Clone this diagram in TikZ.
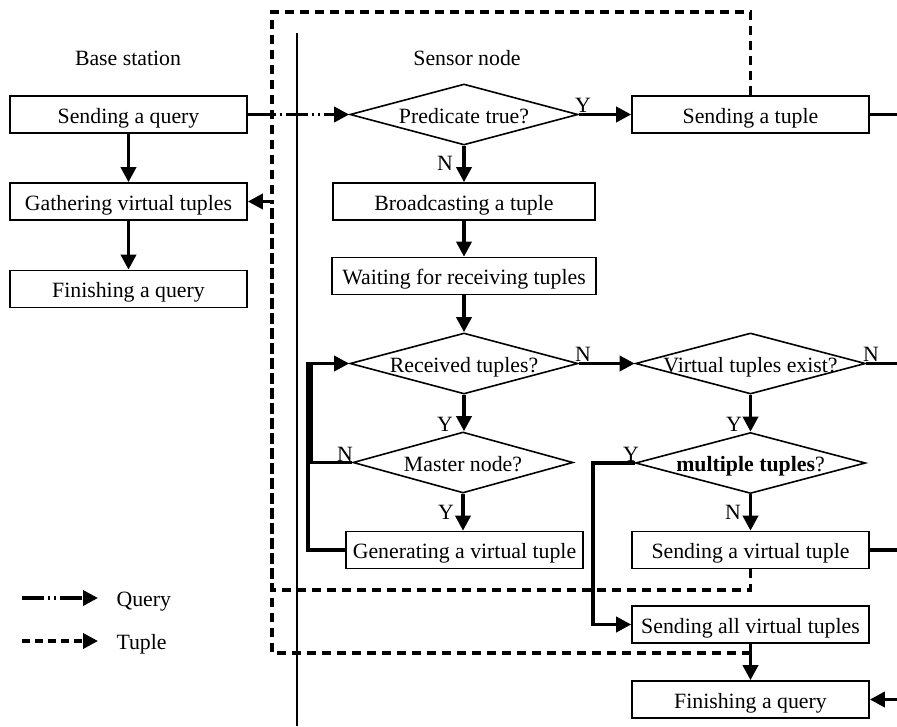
\documentclass[tikz,border=0pt]{standalone}
\usepackage{fontspec}
\setmainfont{Liberation Serif}
\usetikzlibrary{arrows.meta,shapes.geometric}
\begin{document}
\begin{tikzpicture}[x=1pt,y=-1pt,
  every node/.style={font=\fontsize{21.8}{26}\selectfont, text height=17pt, text depth=0pt},
  box/.style={draw, line width=1.6pt, minimum width=237pt, minimum height=37pt, inner sep=0pt},
  dia/.style={draw, shape=diamond, line width=1.6pt, inner sep=0pt, minimum width=228pt, minimum height=61pt},
  tip/.style={-{Triangle[length=15pt,width=15pt]}},
  link/.style={line width=3.5pt},
  flow/.style={link, tip},
  tuple/.style={line width=3.5pt, dash pattern=on 9pt off 6pt},
  query/.style={line width=3.5pt, dash pattern=on 22pt off 4pt on 2pt off 4pt on 2pt off 4pt},
  yn/.style={inner sep=0pt}]

\useasboundingbox (0,0) rectangle (897,726);

% lane headings and separator
\node (bslabel) at (128,57) {Base station};
\node (snlabel) at (467,57) {Sensor node};
\coordinate (septop) at (297,33);
\coordinate (sepbot) at (297,726);
\draw[line width=1.5pt] (septop) -- (sepbot);

% base station
\node[box] (sq) at (128.5,114.5) {Sending a query};
\node[box] (ga) at (128.5,201.5) {Gathering virtual tuples};
\node[box] (fl) at (128.5,289) {Finishing a query};

% sensor node, centre column
\node[dia, label=center:{Predicate true?}] (pt) at (464,114.5) {};
\node[box, minimum width=262pt] (bc) at (464,201.5) {Broadcasting a tuple};
\node[box, minimum width=264pt] (wt) at (464,276) {Waiting for receiving tuples};
\node[dia, label=center:{Received tuples?}] (rt) at (464,363.5) {};
\node[dia, minimum width=220pt, label=center:{Master node?}] (mn) at (463,462.5) {};
\node[box] (gv) at (464.5,550) {Generating a virtual tuple};

% sensor node, right column
\node[box] (st) at (750.5,114.5) {Sending a tuple};
\node[dia, minimum width=230pt, label=center:{Virtual tuples exist?}] (ve) at (750.5,363.5) {};
\node[dia, minimum width=230pt, label=center:{\textbf{multiple tuples}?}] (mt) at (750.5,463) {};
\node[box] (sv) at (750.5,550) {Sending a virtual tuple};
\node[box] (sa) at (750.5,624.5) {Sending all virtual tuples};
\node[box] (fr) at (750.5,699.5) {Finishing a query};

% edge of the sheet
\coordinate (r1) at (897,114.5);
\coordinate (r2) at (897,363.5);
\coordinate (r3) at (897,550);
\coordinate (r4) at (897,699.5);

% control flow
\draw[flow] (sq) -- (ga);
\draw[flow] (ga) -- (fl);
\draw[query, tip] (sq.east) -- (pt.west);
\draw[flow] (pt.east) -- (st.west);
\draw[flow] (pt.south) -- (bc.north);
\draw[flow] (bc) -- (wt);
\draw[flow] (wt.south) -- (rt.north);
\draw[flow] (rt.south) -- (mn.north -| rt.south);
\draw[flow] (mn.south) -- (gv.north -| mn.south);
\coordinate (lp) at (308,0);
\coordinate (lq) at (311,0);
\draw[flow] (gv.west) -| (lp |- rt.west) -- (rt.west);
\draw[link] (mn.west) -| (lq |- rt.west);
\draw[flow] (rt.east) -- (ve.west);
\draw[flow] (ve.south) -- (mt.north);
\draw[flow] (mt.south) -- (sv.north);
\coordinate (yx) at (593,0);
\draw[flow] (mt.west) -- (yx |- mt.west) -- (yx |- sa.west) -- (sa.west);
\draw[flow] (sa) -- (fr);
\draw[link] (st.east) -- (r1);
\draw[link] (ve.east) -- (r2);
\draw[link] (sv.east) -- (r3);
\draw[flow] (r4) -- (fr.east);

% tuples returned to the base station
\coordinate (bus) at (272,201.5);
\coordinate (tap) at (750.5,653);
\draw[tuple] (st.north) |- (272,12) -- (bus);
\draw[tuple] (sv.south) |- (272,590) -- (bus);
\draw[tuple] (tap) -- (272,653) -- (bus);
\draw[flow] (bus) -- (ga.east);

% branch labels
\node[yn] (y1) at (583,104) {Y};
\node[yn] (n1) at (445,162) {N};
\node[yn] (n2) at (583,353) {N};
\node[yn] (n3) at (871,353) {N};
\node[yn] (y2) at (445,423) {Y};
\node[yn] (y3) at (446,511) {Y};
\node[yn] (n4) at (345,453) {N};
\node[yn] (y4) at (734,423) {Y};
\node[yn] (y5) at (631,453) {Y};
\node[yn] (n5) at (733,511) {N};

% legend
\coordinate (q1) at (22,598);
\coordinate (q2) at (98,598);
\draw[query, tip] (q1) -- (q2);
\node[anchor=west] (ql) at (113,598) {Query};
\coordinate (t1) at (22,641);
\coordinate (t2) at (98,641);
\draw[line width=3.5pt, dash pattern=on 8pt off 5pt, tip] (t1) -- (t2);
\node[anchor=west] (tl) at (113,641) {Tuple};
\end{tikzpicture}
\end{document}
